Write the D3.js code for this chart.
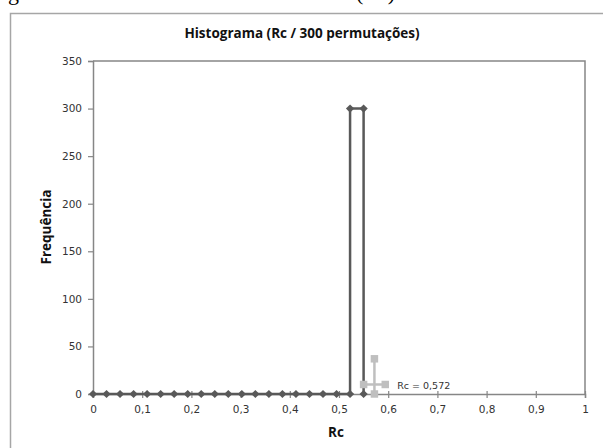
<!DOCTYPE html>
<html>
<head>
<meta charset="utf-8">
<script src="https://cdn.jsdelivr.net/npm/d3@7"></script>
<style>
  body { margin: 0; background: #fff; }
  svg { display: block; }
</style>
</head>
<body>
<div id="chart-area"></div>
<script>
// histogram outline (Rc of the permutations)
const binRc = [0, 0.0275, 0.055, 0.0825, 0.11, 0.1375, 0.165, 0.1925, 0.22, 0.2475, 0.275,
  0.3025, 0.33, 0.3575, 0.385, 0.4125, 0.44, 0.4675, 0.495, 0.5225, 0.5225, 0.55, 0.55];
const binFreq = [0, 0, 0, 0, 0, 0, 0, 0, 0, 0, 0,
  0, 0, 0, 0, 0, 0, 0, 0, 0, 300, 300, 0];

// observed Rc marker
const obsHx = [0.55, 0.594];
const obsHy = [10, 10];
const obsVx = [0.572, 0.572];
const obsVy = [0, 37];
const obsLabel = "Rc = 0,572";

const xTicks = [0, 0.1, 0.2, 0.3, 0.4, 0.5, 0.6, 0.7, 0.8, 0.9, 1];
const yTicks = [0, 50, 100, 150, 200, 250, 300, 350];

let svgW = 603;
let svgH = 448;

let margin = { left: 93, right: 18, top: 61, bottom: 54 };
let chartW = svgW - margin.left - margin.right;
let chartH = svgH - margin.top - margin.bottom;

const axisColor = "#868686";
const font = "'DejaVu Sans', Verdana, sans-serif";
const titleFont = "'Open Sans', 'Liberation Sans', sans-serif";

let svg = d3.select("#chart-area")
  .append("svg")
  .attr("width", svgW)
  .attr("height", svgH);

// caption above the chart, mostly cut off by the picture's top edge
svg.append("text")
  .attr("x", 8).attr("y", 0)
  .attr("font-family", "'Liberation Serif', serif")
  .attr("font-size", 22)
  .text("g");
svg.append("text")
  .attr("x", 356).attr("y", 0)
  .attr("font-family", "'Liberation Serif', serif")
  .attr("font-size", 22)
  .text("(Rc)");

// chart border
svg.append("rect")
  .attr("x", 10.5).attr("y", 13.5)
  .attr("width", 600).attr("height", 450)
  .attr("fill", "#fff")
  .attr("stroke", "#a6a6a6")
  .attr("stroke-width", 1.5);

svg.append("text")
  .attr("x", 302).attr("y", 38)
  .attr("text-anchor", "middle")
  .attr("font-family", titleFont)
  .attr("font-weight", "bold")
  .attr("font-size", 13.5)
  .attr("fill", "#111")
  .text("Histograma (Rc / 300 permutações)");

let x = d3.scaleLinear().domain([0, 1]).range([0, chartW]);
let y = d3.scaleLinear().domain([0, 350]).range([chartH, 0]);

let group = svg.append("g")
  .attr("transform", `translate(${margin.left},${margin.top})`);

// plot frame (top and right)
group.append("path")
  .attr("d", `M0,0H${chartW}V${chartH}`)
  .attr("fill", "none")
  .attr("stroke", axisColor)
  .attr("stroke-width", 1.5);

let groupY = group.append("g")
  .call(d3.axisLeft(y).tickValues(yTicks).tickSize(5).tickPadding(6).tickFormat(d3.format("d")));

let groupX = group.append("g")
  .attr("transform", `translate(0,${chartH})`)
  .call(d3.axisBottom(x).tickValues(xTicks).tickSize(4).tickPadding(8)
    .tickFormat(d => d === 0 || d === 1 ? String(d) : String(d).replace(".", ",")));

groupX.selectAll(".tick line").attr("y1", -3);

[groupX, groupY].forEach(g => {
  g.select(".domain").attr("stroke", axisColor).attr("stroke-width", 1.5);
  g.selectAll(".tick line").attr("stroke", axisColor).attr("stroke-width", 1.2);
  g.selectAll(".tick text")
    .attr("font-family", font)
    .attr("font-size", 10.5)
    .attr("fill", "#333");
});

// axis titles
svg.append("text")
  .attr("x", 336).attr("y", 437)
  .attr("text-anchor", "middle")
  .attr("font-family", titleFont)
  .attr("font-weight", "bold")
  .attr("font-size", 13.5)
  .attr("fill", "#111")
  .text("Rc");

svg.append("text")
  .attr("transform", "translate(51,227) rotate(-90)")
  .attr("text-anchor", "middle")
  .attr("font-family", titleFont)
  .attr("font-weight", "bold")
  .attr("font-size", 13.5)
  .attr("fill", "#111")
  .text("Frequência");

// histogram series
const histPts = binRc.map((r, i) => [r, binFreq[i]]);
const line = d3.line().x(d => x(d[0])).y(d => y(d[1]));

group.append("path")
  .datum(histPts)
  .attr("d", line)
  .attr("fill", "none")
  .attr("stroke", "#595959")
  .attr("stroke-width", 2.5);

group.selectAll(".hist-pt")
  .data(histPts)
  .enter()
  .append("path")
  .attr("class", "hist-pt")
  .attr("d", d3.symbol(d3.symbolSquare, 34))
  .attr("transform", d => `translate(${x(d[0])},${y(d[1])}) rotate(45)`)
  .attr("fill", "#595959");

// observed Rc series
const hPts = obsHx.map((r, i) => [r, obsHy[i]]);
const vPts = obsVx.map((r, i) => [r, obsVy[i]]);

[hPts, vPts].forEach(pts => {
  group.append("path")
    .datum(pts)
    .attr("d", line)
    .attr("fill", "none")
    .attr("stroke", "#bfbfbf")
    .attr("stroke-width", 2.5);
});

group.selectAll(".obs-pt")
  .data(hPts.concat(vPts))
  .enter()
  .append("path")
  .attr("class", "obs-pt")
  .attr("d", d3.symbol(d3.symbolSquare, 56))
  .attr("transform", d => `translate(${x(d[0])},${y(d[1])})`)
  .attr("fill", "#bfbfbf");

group.append("text")
  .attr("x", x(obsHx[1]) + 12)
  .attr("y", y(obsHy[1]) + 5)
  .attr("font-family", font)
  .attr("font-size", 9.5)
  .attr("fill", "#333")
  .text(obsLabel);
</script>
</body>
</html>
